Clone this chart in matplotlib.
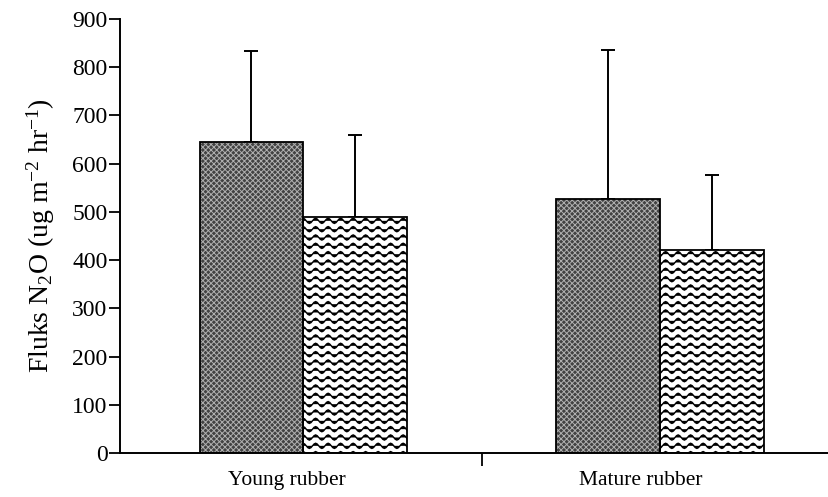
import warnings
import numpy as np
import matplotlib
matplotlib.use("Agg")
import matplotlib.pyplot as plt
from matplotlib import hatch as mhatch
from matplotlib.path import Path

warnings.filterwarnings("ignore")

# ---------------- DATA ---------------- #
groups = ["Young rubber", "Mature rubber"]
series_a = [644, 527]        # dark dotted bars
series_a_err = [190, 308]
series_b = [489, 421]        # wavy bars
series_b_err = [170, 155]


# custom wavy hatch, triggered by "w" in the hatch string
class WaveHatch(mhatch.HatchPatternBase):
    def __init__(self, hatch, density):
        self.num_rows = hatch.count("w") * 12
        self.pts = 8 * 8 + 1
        self.num_vertices = self.num_rows * self.pts

    def set_vertices_and_codes(self, vertices, codes):
        x = np.linspace(0, 1, self.pts)
        wave = 0.026 * np.sin(2 * np.pi * 8 * x)
        for i in range(self.num_rows):
            y0 = (i + 0.5) / self.num_rows
            sl = slice(i * self.pts, (i + 1) * self.pts)
            vertices[sl, 0] = x
            vertices[sl, 1] = y0 + wave
            codes[sl] = Path.LINETO
            codes[i * self.pts] = Path.MOVETO


mhatch._hatch_types.append(WaveHatch)

plt.rcParams["font.family"] = ["Liberation Serif", "DejaVu Serif"]
plt.rcParams["mathtext.fontset"] = "custom"
plt.rcParams["mathtext.rm"] = "Liberation Serif"
plt.rcParams["mathtext.it"] = "Liberation Serif:italic"

fig = plt.figure(figsize=(8.29, 4.97), dpi=100)
ax = fig.add_axes([0.1448, 0.0885, 0.8552, 0.8732])

x = np.arange(len(groups))
w = 0.29

# dark bars: fill + light hatch, then black outline
plt.rcParams["hatch.linewidth"] = 0.7
ax.bar(x - w / 2, series_a, w, color="#424242", edgecolor="#b0b0b0",
       hatch="xxxxxx", linewidth=0, zorder=2)
ax.bar(x - w / 2, series_a, w, fill=False, edgecolor="black",
       linewidth=1.3, zorder=3)

# wavy bars
plt.rcParams["hatch.linewidth"] = 1.0
ax.bar(x + w / 2, series_b, w, color="white", edgecolor="black",
       hatch="w", linewidth=0, zorder=2)
ax.bar(x + w / 2, series_b, w, fill=False, edgecolor="black",
       linewidth=1.3, zorder=3)

# upper error bars only
ax.errorbar(x - w / 2, series_a, yerr=[[0, 0], series_a_err], fmt="none",
            ecolor="black", elinewidth=1.4, capsize=5, capthick=1.4, zorder=1)
ax.errorbar(x + w / 2, series_b, yerr=[[0, 0], series_b_err], fmt="none",
            ecolor="black", elinewidth=1.4, capsize=5, capthick=1.4, zorder=1)

ax.set_xlim(-0.5126, 1.4734)
ax.set_ylim(0, 900)
ax.set_yticks(range(0, 901, 100))
ax.tick_params(axis="y", labelsize=17, length=8, width=1.3, pad=1)

# middle tick with no label, group names as minor ticks
ax.set_xticks([0.5])
ax.set_xticklabels([""])
ax.set_xticks([-0.045, 0.947], groups, minor=True)
ax.tick_params(axis="x", which="major", length=9, width=1.3)
ax.tick_params(axis="x", which="minor", length=0, labelsize=15.5, pad=13)

for s in ["top", "right"]:
    ax.spines[s].set_visible(False)
for s in ["left", "bottom"]:
    ax.spines[s].set_linewidth(1.4)

ax.set_ylabel(r"Fluks N$_2$O (ug m$^{-2}$ hr$^{-1}$)", fontsize=20, labelpad=11)

fig.savefig("out.png", dpi=100)
